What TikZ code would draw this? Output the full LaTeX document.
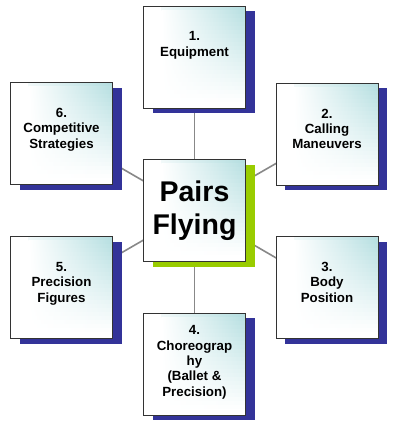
\documentclass[tikz,border=0pt]{standalone}
\usepackage{fontspec}
\setmainfont{Liberation Sans}
\usepackage{tikz}
\usetikzlibrary{positioning, shadows, backgrounds}
\definecolor{ombraBlu}{HTML}{333399}
\definecolor{ombraVerde}{HTML}{99CC00}
\definecolor{tealChiaro}{HTML}{B4DEE0}
\definecolor{bordo}{HTML}{333333}
\definecolor{filo}{HTML}{888888}
\tikzset{
  riquadro/.style={draw=bordo, line width=0.9pt, fill=white, minimum size=102pt, inner sep=0pt,
    path picture={
      \foreach \i in {0,...,25}{
        \pgfmathtruncatemacro{\k}{max(0,100-4.2*\i)}
        \shade[left color=white, right color=tealChiaro!\k!white] ([xshift=18pt, yshift=-\i*4pt]path picture bounding box.north west) rectangle ([yshift=-\i*4pt-4.4pt]path picture bounding box.north east);
      }},
    drop shadow={shadow xshift=9pt, shadow yshift=-5pt, fill=#1, opacity=1}},
  riquadro/.default=ombraBlu,
  testo/.style={align=center, inner sep=0pt, font=\fontsize{13.3}{15.3}\selectfont\bfseries},
  collega/.style={draw=filo, line width=1.6pt}
}

\begin{document}
\begin{tikzpicture}[x=1pt, y=-1pt]
    % Parametri
    \pgfmathsetmacro{\xc}{194.5}
    \pgfmathsetmacro{\xs}{61.5}
    \pgfmathsetmacro{\xd}{327}
    \pgfmathsetmacro{\dall}{26}
    \useasboundingbox (0,0) rectangle (400,431);
    % Riquadri
    \node[riquadro=ombraVerde, font=\fontsize{28.5}{33}\selectfont\bfseries, align=center] (pairs) at (\xc,210.5) {Pairs\\Flying};
    \node[riquadro] (equip) at (\xc,57) {};
    \node[riquadro] (calling) at (\xd,134) {};
    \node[riquadro] (body) at (\xd,287.5) {};
    \node[riquadro] (choreo) at (\xc,364) {};
    \node[riquadro] (figures) at (\xs,287.5) {};
    \node[riquadro] (strategies) at (\xs,133.5) {};
    % Testi
    \node[testo, below=\dall pt of equip.north] (equip-t) {1.\\Equipment};
    \node[testo, below=\dall pt of calling.north] (calling-t) {2.\\Calling\\Maneuvers};
    \node[testo, below=\dall pt of body.north] (body-t) {3.\\Body\\Position};
    \node[testo, below=13pt of choreo.north] (choreo-t) {4.\\Choreograp\\hy\\(Ballet \&\\Precision)};
    \node[testo, below=\dall pt of figures.north] (figures-t) {5.\\Precision\\Figures};
    \node[testo, below=\dall pt of strategies.north] (strategies-t) {6.\\Competitive\\Strategies};
    % Collegamenti
    \begin{scope}[on background layer]
        \draw[collega] (pairs.center) -- (equip.center);
        \draw[collega] (pairs.center) -- (calling.center);
        \draw[collega] (pairs.center) -- (body.center);
        \draw[collega] (pairs.center) -- (choreo.center);
        \draw[collega] (pairs.center) -- (figures.center);
        \draw[collega] (pairs.center) -- (strategies.center);
    \end{scope}
\end{tikzpicture}
\end{document}
